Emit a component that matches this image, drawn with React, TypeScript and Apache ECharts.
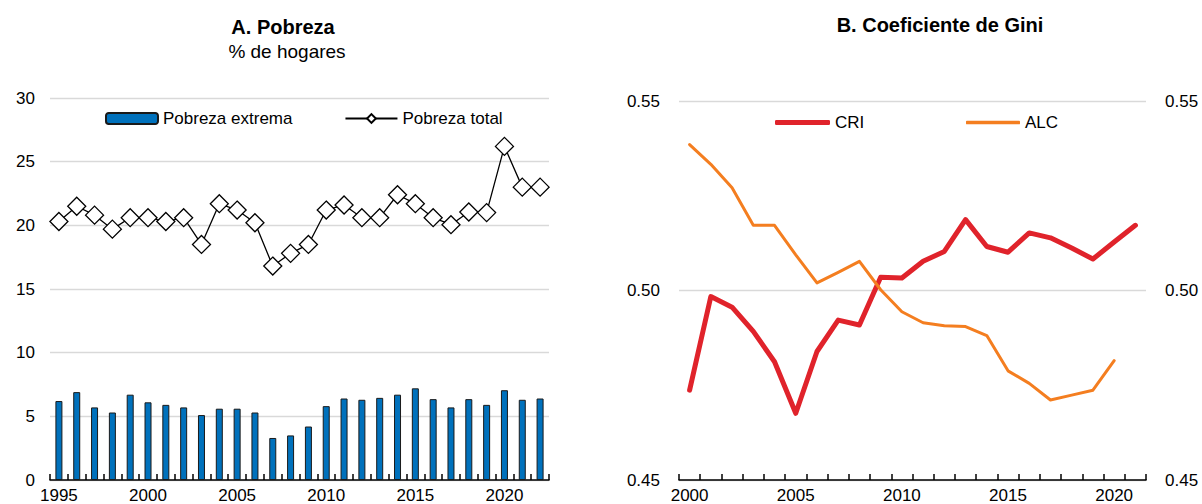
import React, { useEffect, useRef } from "react";
import * as echarts from "echarts";

const povertyYears = [
  "1995", "1996", "1997", "1998", "1999", "2000", "2001", "2002", "2003", "2004",
  "2005", "2006", "2007", "2008", "2009", "2010", "2011", "2012", "2013", "2014",
  "2015", "2016", "2017", "2018", "2019", "2020", "2021", "2022",
];
const extremePoverty = [
  6.2, 6.9, 5.7, 5.3, 6.7, 6.1, 5.9, 5.7, 5.1, 5.6,
  5.6, 5.3, 3.3, 3.5, 4.2, 5.8, 6.4, 6.3, 6.45, 6.7,
  7.2, 6.35, 5.7, 6.35, 5.9, 7.05, 6.3, 6.4,
];
const totalPoverty = [
  20.3, 21.5, 20.8, 19.7, 20.6, 20.6, 20.3, 20.6, 18.5, 21.7,
  21.2, 20.2, 16.8, 17.8, 18.5, 21.2, 21.6, 20.6, 20.6, 22.4,
  21.7, 20.6, 20.05, 21.05, 21.0, 26.2, 23.0, 23.0,
];
const povertyTicks = [0, 5, 10, 15, 20, 25, 30];

const giniYears = [
  "2000", "2001", "2002", "2003", "2004", "2005", "2006", "2007", "2008", "2009",
  "2010", "2011", "2012", "2013", "2014", "2015", "2016", "2017", "2018", "2019",
  "2020", "2021",
];
const giniCRI = [
  0.4737, 0.4984, 0.4956, 0.4892, 0.4812, 0.4676, 0.4839, 0.4922, 0.4909, 0.5035,
  0.5033, 0.5077, 0.5103, 0.5187, 0.5116, 0.5101, 0.5152, 0.5139, 0.5112, 0.5083,
  0.5128, 0.5172,
];
const giniALC = [
  0.5385, 0.5333, 0.5271, 0.5172, 0.5172, 0.5094, 0.502, 0.5048, 0.5077, 0.5002,
  0.4944, 0.4915, 0.4907, 0.4905, 0.4881, 0.4788, 0.4755, 0.4711, 0.4724, 0.4737,
  0.4815, null,
];
const giniTicks = [0.45, 0.5, 0.55];

const FONT = "'Liberation Sans', Arial, sans-serif";
const RED = "#E0232B";
const ORANGE = "#F47E20";

const H = 504;
const GRID_A = { left: 50, right: 653, top: 98, bottom: 24 };
const GRID_B = { left: 679, right: 56, top: 101, bottom: 24 };

export default function App() {
  const ref = useRef<HTMLDivElement>(null);
  useEffect(() => {
    document.body.style.margin = "0";
    const chart = echarts.init(ref.current!, undefined, { renderer: "svg" });
    const axisText = { color: "#000", fontSize: 17, fontFamily: FONT };
    const gridLine = { show: true, lineStyle: { color: "#D9D9D9", width: 1.3 } };
    const mainX = (data: string[], gridIndex: number) => ({
      type: "category",
      gridIndex,
      data,
      boundaryGap: true,
      position: "bottom",
      axisLine: { show: true, onZero: false, lineStyle: { color: "#000", width: 1.6 } },
      axisTick: { show: false },
      axisLabel: { ...axisText, interval: 4, margin: 7 },
      splitLine: { show: false },
    });
    // tick-only axis placed on the bottom edge, ticks pointing upward (inside the plot)
    const tickX = (data: string[], gridIndex: number, plotHeight: number) => ({
      type: "category",
      gridIndex,
      data,
      boundaryGap: true,
      position: "top",
      offset: -plotHeight,
      axisLine: { show: false },
      axisTick: { show: true, inside: false, length: 6, interval: 0, lineStyle: { color: "#000", width: 1.5 } },
      axisLabel: { show: false },
      splitLine: { show: false },
    });
    chart.setOption({
      animation: false,
      textStyle: { fontFamily: FONT },
      grid: [GRID_A, GRID_B],
      graphic: [
        { type: "text", x: 283, y: 27, style: { text: "A. Pobreza", font: `bold 20px ${FONT}`, fill: "#000", align: "center", verticalAlign: "middle" } },
        { type: "text", x: 287, y: 51, style: { text: "% de hogares", font: `19px ${FONT}`, fill: "#000", align: "center", verticalAlign: "middle" } },
        { type: "text", x: 940, y: 25, style: { text: "B. Coeficiente de Gini", font: `bold 20px ${FONT}`, fill: "#000", align: "center", verticalAlign: "middle" } },
      ],
      legend: [
        {
          left: 105, top: 110, padding: 0, itemWidth: 52, itemHeight: 11, itemGap: 52,
          textStyle: { ...axisText },
          data: ["Pobreza extrema", "Pobreza total"],
        },
        {
          left: 775, top: 114, padding: 0, itemWidth: 55, itemHeight: 5,
          textStyle: { ...axisText },
          data: [{ name: "CRI", icon: "roundRect" }],
        },
        {
          left: 966, top: 114, padding: 0, itemWidth: 54, itemHeight: 3.5,
          textStyle: { ...axisText },
          data: [{ name: "ALC", icon: "roundRect" }],
        },
      ],
      xAxis: [
        mainX(povertyYears, 0),
        mainX(giniYears, 1),
        tickX(povertyYears, 0, H - GRID_A.top - GRID_A.bottom),
        tickX(giniYears, 1, H - GRID_B.top - GRID_B.bottom),
      ],
      yAxis: [
        {
          type: "value", gridIndex: 0,
          min: povertyTicks[0], max: povertyTicks[povertyTicks.length - 1], interval: 5,
          axisLine: { show: false }, axisTick: { show: false },
          axisLabel: { ...axisText, margin: 15 },
          splitLine: gridLine,
        },
        {
          type: "value", gridIndex: 1,
          min: giniTicks[0], max: giniTicks[giniTicks.length - 1], interval: 0.05,
          axisLine: { show: false }, axisTick: { show: false },
          axisLabel: { ...axisText, margin: 19, formatter: (v: number) => v.toFixed(2) },
          splitLine: gridLine,
        },
        {
          type: "value", gridIndex: 1, position: "right",
          min: giniTicks[0], max: giniTicks[giniTicks.length - 1], interval: 0.05,
          axisLine: { show: false }, axisTick: { show: false },
          axisLabel: { ...axisText, margin: 19, formatter: (v: number) => v.toFixed(2) },
          splitLine: { show: false },
        },
      ],
      series: [
        {
          name: "Pobreza extrema", type: "bar", xAxisIndex: 0, yAxisIndex: 0,
          data: extremePoverty, barWidth: 7,
          itemStyle: { color: "#0071BC", borderColor: "#1a1a1a", borderWidth: 1 },
        },
        {
          name: "Pobreza total", type: "line", xAxisIndex: 0, yAxisIndex: 0,
          data: totalPoverty, symbol: "diamond", symbolSize: 18, showAllSymbol: true,
          lineStyle: { color: "#000", width: 1.3 },
          itemStyle: { color: "#fff", borderColor: "#000", borderWidth: 1.3 },
        },
        {
          name: "CRI", type: "line", xAxisIndex: 1, yAxisIndex: 1,
          data: giniCRI, symbol: "none",
          lineStyle: { color: RED, width: 5, cap: "round", join: "round" },
          itemStyle: { color: RED },
        },
        {
          name: "ALC", type: "line", xAxisIndex: 1, yAxisIndex: 1,
          data: giniALC, symbol: "none",
          lineStyle: { color: ORANGE, width: 3, cap: "round", join: "round" },
          itemStyle: { color: ORANGE },
        },
      ],
    });
    return () => chart.dispose();
  }, []);
  return <div ref={ref} style={{ width: 1202, height: 504 }} />;
}
